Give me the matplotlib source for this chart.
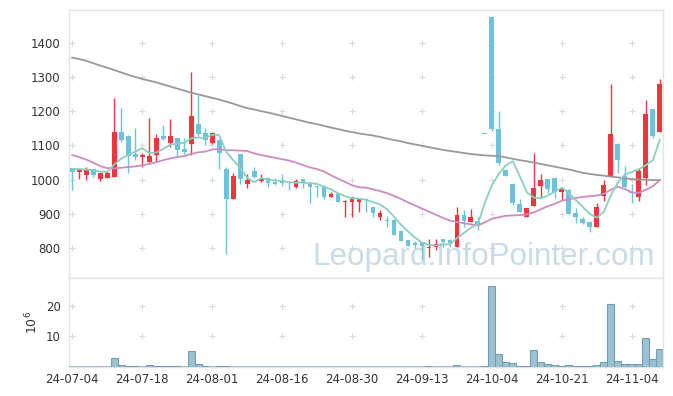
import numpy as np
import matplotlib
matplotlib.use("Agg")
import matplotlib.pyplot as plt

# ---- data ----
opens = [1033, 1023, 1015, 1030, 1003, 1006, 1009, 1138, 1127, 1075,
         1066, 1052, 1073, 1127, 1108, 1121, 1090, 1103, 1162, 1136,
         1107, 1116, 1031, 945, 1075, 987, 1025, 997, 1005, 994,
         999, 994, 980, 1001, 987, 982, 982, 950, 958, 935,
         935, 935, 944, 921, 892, 881, 883, 851, 824, 816,
         816, 802, 803, 827, 824, 805, 897, 877, 880, 1132,
         1475, 1148, 1028, 987, 929, 890, 924, 983, 1001, 1004,
         965, 970, 902, 885, 877, 863, 953, 1007, 1104, 1011,
         965, 950, 1004, 1205, 1140]
highs = [1035, 1032, 1036, 1032, 1021, 1025, 1237, 1208, 1130, 1150,
         1079, 1179, 1133, 1160, 1176, 1123, 1121, 1315, 1247, 1150,
         1140, 1118, 1038, 1019, 1075, 1017, 1038, 1016, 1007, 1004,
         1017, 995, 1002, 1002, 994, 983, 984, 965, 960, 940,
         951, 948, 946, 922, 912, 894, 885, 852, 825, 822,
         818, 828, 826, 828, 826, 921, 912, 914, 892, 1132,
         1475, 1200, 1030, 988, 943, 919, 1077, 1016, 1002, 1009,
         974, 972, 917, 892, 879, 933, 999, 1279, 1106, 1041,
         989, 1033, 1234, 1207, 1293]
lows = [970, 1001, 999, 1007, 997, 1004, 1009, 1111, 1019, 1059,
        1036, 1050, 1052, 1115, 1096, 1069, 1074, 1072, 1127, 1101,
        1105, 1030, 783, 945, 987, 975, 1005, 994, 980, 986,
        982, 970, 975, 976, 931, 950, 945, 949, 935, 890,
        890, 907, 907, 890, 883, 863, 839, 822, 807, 800,
        766, 776, 795, 803, 805, 805, 861, 876, 853, 1132,
        1143, 1043, 1010, 926, 907, 890, 924, 950, 960, 946,
        941, 900, 875, 872, 848, 863, 939, 1007, 1020, 978,
        931, 939, 985, 1121, 1138]
closes = [1024, 1031, 1030, 1015, 1019, 1019, 1138, 1117, 1069, 1066,
          1071, 1069, 1122, 1119, 1129, 1087, 1082, 1186, 1134, 1117,
          1136, 1079, 945, 1011, 1001, 999, 1008, 1003, 991, 988,
          991, 991, 996, 993, 980, 980, 950, 958, 935, 937,
          949, 946, 941, 902, 902, 879, 839, 822, 807, 810,
          807, 805, 813, 819, 815, 897, 880, 890, 871, 1132,
          1148, 1048, 1012, 931, 907, 917, 975, 999, 973, 965,
          972, 900, 892, 873, 863, 921, 985, 1133, 1057, 980,
          960, 1025, 1191, 1128, 1279]
ma_short = [1032, 1031, 1030, 1028, 1023.8, 1022.8, 1044.2, 1061.6, 1072.4, 1081.8,
            1092.2, 1078.4, 1079.4, 1089.4, 1102, 1105.2, 1107.8, 1120.6, 1123.6, 1121.2,
            1131, 1130.4, 1082.2, 1057.6, 1034.4, 1007, 992.8, 1004.4, 1000.4, 997.8,
            996.2, 992.8, 991.4, 991.8, 990.2, 988, 979.8, 972.2, 960.6, 952,
            945.8, 945, 941.6, 935, 928, 914, 892.6, 868.8, 849.8, 831.4,
            817, 810.2, 808.4, 810.8, 811.8, 829.8, 844.8, 860.2, 870.6, 934,
            984.2, 1017.8, 1042.2, 1054.2, 1009.2, 963, 948.4, 945.8, 954.2, 965.8,
            976.8, 961.8, 940.4, 920.4, 900, 889.8, 906.8, 955, 991.8, 1015.2,
            1023, 1031, 1042.6, 1056.8, 1116.6]
ma_mid = [1072, 1066, 1059, 1050, 1040, 1034, 1033, 1035, 1037, 1039,
          1042, 1046, 1051, 1057, 1062, 1066, 1069, 1075, 1080, 1082,
          1088, 1090, 1086, 1086, 1085, 1084, 1077, 1072, 1068, 1064,
          1060, 1056, 1050, 1043, 1036, 1031, 1024, 1013, 1003, 994,
          984, 978, 977, 972, 967, 961, 953, 944, 934, 925,
          916, 907, 898, 889, 881, 877, 873, 870, 867, 876,
          886, 891, 895, 896, 897, 899, 905, 914, 923, 930,
          939, 943, 947, 950, 952, 954, 959, 971, 980, 973,
          963, 962, 971, 981, 999]
ma_long = [1356, 1352, 1347, 1340, 1333, 1327, 1320, 1313, 1306, 1300,
           1294, 1289, 1284, 1278, 1272, 1266, 1260, 1254, 1249, 1244,
           1239, 1234, 1228, 1222, 1215, 1209, 1205, 1200, 1196, 1191,
           1186, 1181, 1176, 1171, 1166, 1162, 1157, 1152, 1148, 1143,
           1139, 1135, 1132, 1129, 1125, 1120, 1116, 1112, 1107, 1103,
           1099, 1095, 1091, 1087, 1084, 1081, 1078, 1075, 1073, 1071,
           1070, 1069, 1065, 1061, 1057, 1054, 1050, 1046, 1042, 1038,
           1034, 1030, 1025, 1020, 1017, 1014, 1012, 1009, 1007, 1004,
           1002, 1001, 1000, 999, 999]
volume = [0.02, 0.02, 0.02, 0.02, 0.02, 0.02, 2.7, 0.4, 0.2, 0.2,
          0.02, 0.4, 0.2, 0.2, 0.2, 0.2, 0.02, 5.1, 0.8, 0.2,
          0.02, 0.2, 0.2, 0.02, 0.02, 0.02, 0.02, 0.02, 0.02, 0.02,
          0.02, 0.02, 0.02, 0.02, 0.02, 0.02, 0.02, 0.02, 0.02, 0.02,
          0.02, 0.02, 0.02, 0.02, 0.02, 0.02, 0.02, 0.02, 0.02, 0.02,
          0.02, 0.2, 0.02, 0.02, 0.02, 0.4, 0.02, 0.02, 0.02, 0.15,
          26.8, 4.0, 1.4, 1.0, 0.3, 0.15, 5.4, 1.4, 0.8, 0.4,
          0.15, 0.35, 0.15, 0.15, 0.15, 0.45, 1.4, 20.8, 1.8, 0.8,
          0.8, 0.8, 9.3, 2.4, 5.8]
tick_labels = ['24-07-04', '24-07-18', '24-08-01', '24-08-16', '24-08-30',
               '24-09-13', '24-10-04', '24-10-21', '24-11-04']
price_ticks = [800, 900, 1000, 1100, 1200, 1300, 1400]
vol_ticks = [10, 20]

# ---- styles ----
RED = '#ee363c'
BLUE = '#6dc3db'
TXT = '#333333'
GRIDC = '#d9d9d9'
SPINE = '#e3e3e3'

plt.rcParams['font.family'] = ['DejaVu Sans']

o = np.array(opens, float)
h = np.array(highs, float)
l = np.array(lows, float)
c = np.array(closes, float)
v = np.array(volume, float)
x = np.arange(len(c))
tick_pos = np.arange(0, 10 * len(tick_labels), 10)

fig = plt.figure(figsize=(6.73, 3.96), dpi=100)
ax = fig.add_axes([69/673, 1-277.5/396, 594/673, 267.5/396])
axv = fig.add_axes([69/673, 1-366.5/396, 594/673, 89/396])

up = c > o
colors = np.where(up, RED, BLUE)

# wicks
ax.vlines(x, l, h, colors=colors, linewidth=1.0, zorder=3)
# bodies
bottoms = np.minimum(o, c)
heights = np.maximum(np.abs(c - o), 3.0)
ax.bar(x, heights, bottom=bottoms, width=0.7, color=colors, linewidth=0, zorder=4)

# moving averages
ax.plot(x, ma_long, color='#999999', linewidth=1.3, zorder=5)
ax.plot(x, ma_mid, color='#cc8cc3', linewidth=1.3, zorder=5)
ax.plot(x, ma_short, color='#8ccfc2', linewidth=1.3, zorder=5)

ax.set_xlim(-0.45, 84.45)
ax.set_ylim(715, 1495)
ax.set_yticks(price_ticks)
ax.set_xticks(tick_pos)
ax.tick_params(axis='x', labelbottom=False, length=0)
ax.tick_params(axis='y', length=0, labelsize=8.5, labelcolor=TXT, pad=6)

# '+' grid markers
gx, gy = np.meshgrid(tick_pos, price_ticks)
ax.scatter(gx.ravel(), gy.ravel(), marker='+', s=14, color=GRIDC, linewidths=0.8, zorder=1)

ax.text(0.9865, 0.045, 'Leopard.InfoPointer.com', transform=ax.transAxes,
        ha='right', va='baseline', fontsize=22.6, color='#c4d8e4', alpha=0.9,
        family=['Liberation Sans', 'DejaVu Sans'], zorder=2)

for s in ax.spines.values():
    s.set_color(SPINE)
    s.set_linewidth(1.0)

# volume
edge = np.where(v >= 0.1, '#6f9fb6', 'none')
axv.bar(x, v, width=1.0, color='#9cc1d1', edgecolor=edge, linewidth=0.8, zorder=3)
axv.set_xlim(-0.45, 84.45)
axv.set_ylim(0, 29.5)
axv.set_yticks(vol_ticks)
axv.set_xticks(tick_pos)
axv.set_xticklabels(tick_labels)
axv.tick_params(axis='x', length=0, labelsize=8.5, labelcolor=TXT, pad=5)
axv.tick_params(axis='y', length=0, labelsize=8.5, labelcolor=TXT, pad=6)
vx, vy = np.meshgrid(tick_pos, vol_ticks)
axv.scatter(vx.ravel(), vy.ravel(), marker='+', s=14, color=GRIDC, linewidths=0.8, zorder=1)
axv.set_ylabel('$10^6$', fontsize=9, color=TXT, labelpad=4)
for s in axv.spines.values():
    s.set_color(SPINE)
    s.set_linewidth(1.0)

fig.savefig('out.png', dpi=100, facecolor='white')
